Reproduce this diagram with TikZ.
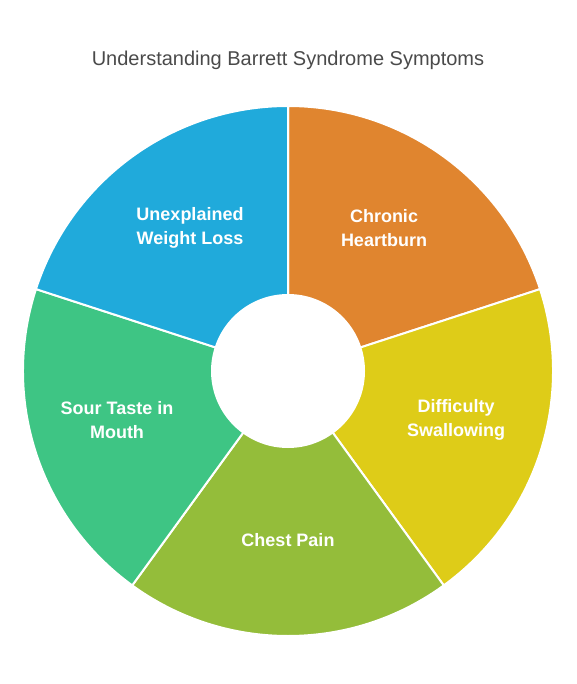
\documentclass[tikz,border=0pt]{standalone}
\usepackage{fontspec}
\setmainfont{Liberation Sans}
\definecolor{heartOrange} {HTML}{E0852F}
\definecolor{swallowYellow}{HTML}{DECC18}
\definecolor{chestGreen}  {HTML}{94BD3A}
\definecolor{sourGreen}   {HTML}{3EC584}
\definecolor{weightBlue}  {HTML}{20AADB}
\definecolor{titleGray}   {HTML}{4A4A4A}
\tikzset{
  sector/.style={draw=white,line width=2pt,line join=round},
  segtext/.style={text=white,align=center,font=\fontsize{18}{24}\selectfont\bfseries},
  title/.style={text=titleGray,font=\fontsize{20}{24}\selectfont},
}

\begin{document}
\begin{tikzpicture}[x=1pt,y=1pt]

\useasboundingbox (0,0) rectangle (577,-684);

\node[title] (ttl) at (288,-60) {Understanding Barrett Syndrome Symptoms};

\coordinate (ctr) at (288,-371);

\path[sector,fill=heartOrange]   (ctr) -- ++(18:265)   arc[start angle=18,end angle=90,radius=265]    -- cycle;
\path[sector,fill=swallowYellow] (ctr) -- ++(-54:265)  arc[start angle=-54,end angle=18,radius=265]   -- cycle;
\path[sector,fill=chestGreen]    (ctr) -- ++(-126:265) arc[start angle=-126,end angle=-54,radius=265] -- cycle;
\path[sector,fill=sourGreen]     (ctr) -- ++(162:265)  arc[start angle=162,end angle=234,radius=265]  -- cycle;
\path[sector,fill=weightBlue]    (ctr) -- ++(90:265)   arc[start angle=90,end angle=162,radius=265]   -- cycle;

\node[circle,fill=white,minimum size=154pt,inner sep=0pt] (hole) at (ctr) {};

\node[segtext] (heartburn) at (384,-228) {Chronic\\Heartburn};
\node[segtext] (swallow)   at (456,-420) {Difficulty\\Swallowing};
\node[segtext] (chest)     at (288,-540) {Chest Pain};
\node[segtext] (sour)      at (117,-420) {Sour Taste in\\Mouth};
\node[segtext] (weight)    at (190,-228) {Unexplained\\Weight Loss};

\end{tikzpicture}
\end{document}
